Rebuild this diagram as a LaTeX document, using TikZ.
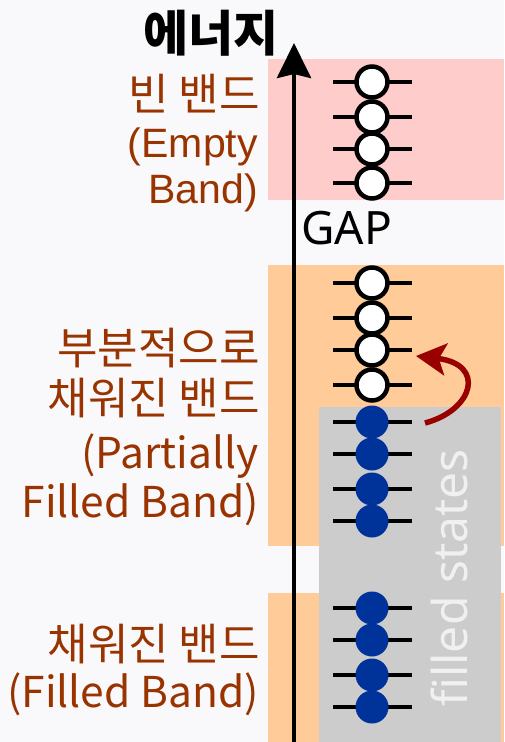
\documentclass[tikz,border=0pt]{standalone}
\usepackage{fontspec}
\setmainfont{Noto Sans CJK KR}
\newfontfamily\arialfont{Liberation Sans}
\newfontfamily\notosans{Noto Sans}
\usetikzlibrary{arrows.meta}
\definecolor{bgc}{HTML}{F9F9FC}
\definecolor{pinkband}{HTML}{FFCCCC}
\definecolor{orangeband}{HTML}{FFCC99}
\definecolor{grayband}{HTML}{CCCCCC}
\definecolor{labelc}{HTML}{993300}
\definecolor{fillc}{HTML}{003399}
\definecolor{arrowc}{HTML}{990000}
\tikzset{
  levelline/.style={line width=4pt},
  openstate/.style={circle,draw=black,line width=4.5pt,fill=white,minimum size=31pt,inner sep=0pt},
  fullstate/.style={circle,fill=fillc,minimum size=33pt,inner sep=0pt},
  krlabel/.style={text=labelc,font=\fontsize{44}{44}\selectfont,anchor=base east,inner sep=0pt},
  enlabel/.style={text=labelc,font=\fontsize{42.5}{42.5}\selectfont,anchor=base east,inner sep=0pt},
  arlabel/.style={text=labelc,font=\arialfont\fontsize{41}{41}\selectfont,anchor=base east,inner sep=0pt},
}
\begin{document}
\begin{tikzpicture}[x=1pt,y=-1pt]
\fill[bgc] (0,0) rectangle (504,742);
\useasboundingbox (0,0) rectangle (504,742);
% bands
\fill[pinkband] (268,59) rectangle (504,200);
\fill[orangeband] (268,265) rectangle (504,546);
\fill[orangeband] (268,593) rectangle (504,742);
\fill[grayband] (319,407) rectangle (501,742);
% filled states text
\node[rotate=90,text=white!94!black,font=\notosans\fontsize{48}{48}\selectfont,inner sep=0pt] (fs) at (449,578) {filled states};
% axis
\coordinate (axbot) at (294,742);
\coordinate (axtop) at (294,43);
\draw[line width=4pt,-{Stealth[length=35pt,width=34pt,inset=4pt]}] (axbot) -- (axtop);
% title
\node[font=\fontsize{49}{49}\selectfont\bfseries,inner sep=0pt] (title) at (211,33) {에너지};
% GAP
\node[font=\notosans\fontsize{46}{46}\selectfont,inner sep=0pt,anchor=base west] (gap) at (301,244) {GAP};
% levels
\foreach \n/\y in {e1/82,e2/117,e3/149,e4/183,p1/283,p2/318,p3/350,p4/385}{
  \draw[levelline] (333,\y) -- (412,\y);
}
\foreach \n/\y in {e1/82,e2/117,e3/149,e4/183,p1/283,p2/318,p3/350,p4/385}{
  \node[openstate] (\n) at (372,\y) {};
}
\foreach \n/\y in {p5/422,p6/454,p7/489,p8/521,f1/608,f2/640,f3/675,f4/707}{
  \draw[levelline] (333,\y) -- (412,\y);
  \node[fullstate] (\n) at (372,\y) {};
}
% excitation arrow
\coordinate (exstart) at (425,423);
\coordinate (exend) at (416,356);
\draw[arrowc,line width=5.5pt,-{Stealth[length=30pt,width=32pt,inset=7pt]}] (exstart) .. controls (474,410) and (486,364) .. (exend);
% labels
\node[krlabel] (l1a) at (260,110) {빈 밴드};
\node[arlabel] (l1b) at (258,157) {(Empty};
\node[arlabel] (l1c) at (258,203) {Band)};
\node[krlabel] (l2a) at (260,364) {부분적으로};
\node[krlabel] (l2b) at (260,414) {채워진 밴드};
\node[enlabel] (l2c) at (259,468) {(Partially};
\node[enlabel] (l2d) at (259,517) {Filled Band)};
\node[krlabel] (l3a) at (260,660) {채워진 밴드};
\node[enlabel] (l3b) at (259,707) {(Filled Band)};
\end{tikzpicture}
\end{document}
